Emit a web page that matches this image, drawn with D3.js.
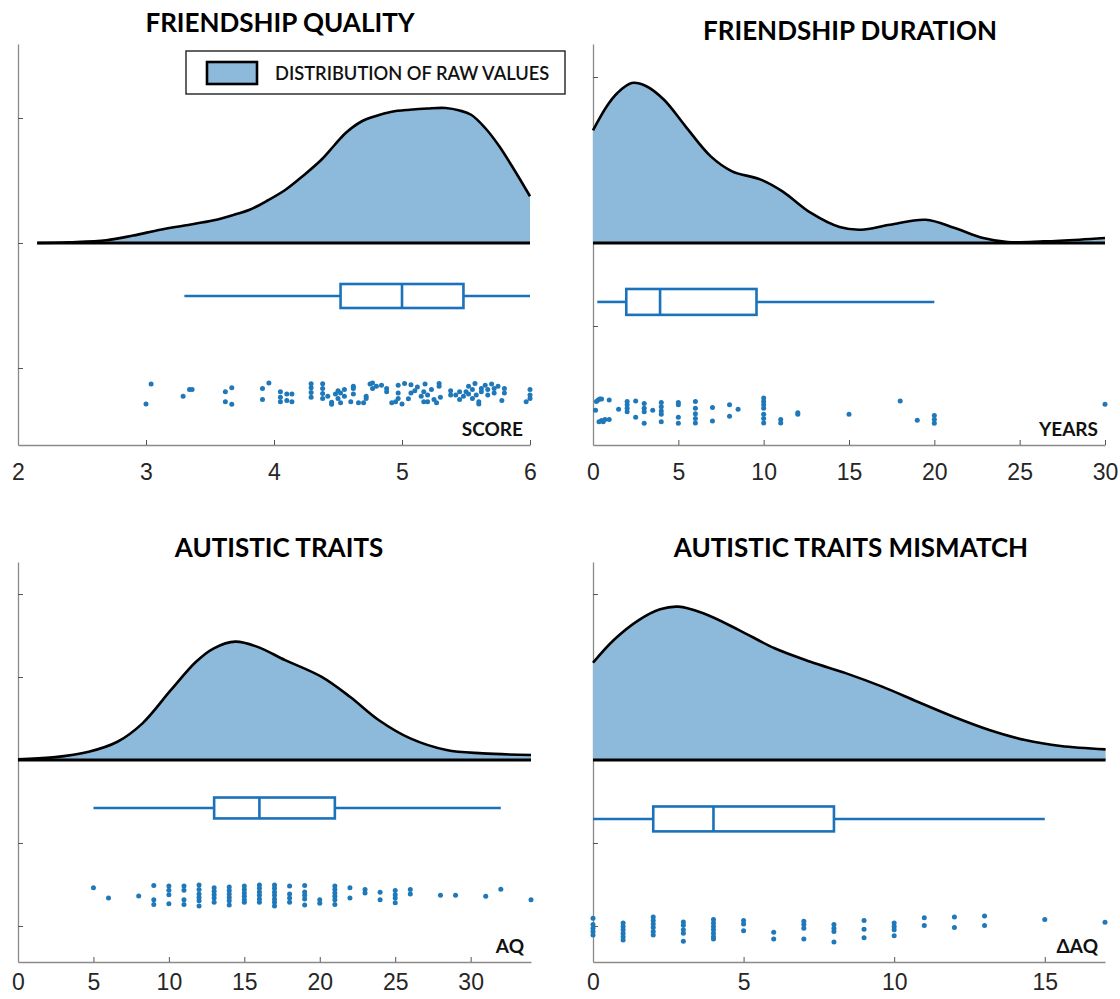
<!DOCTYPE html>
<html><head><meta charset="utf-8">
<script src="https://cdn.jsdelivr.net/npm/d3@7"></script>
<style>body{margin:0;background:#fff}</style>
</head><body>
<svg id="chart" width="1120" height="999"></svg>
<script>
// ---------------- DATA ----------------
const panelTitles = ["FRIENDSHIP QUALITY", "FRIENDSHIP DURATION", "AUTISTIC TRAITS", "AUTISTIC TRAITS MISMATCH"];
const unitLabels = ["SCORE", "YEARS", "AQ", "\u0394AQ"];
const legendLabel = "DISTRIBUTION OF RAW VALUES";

const qualityTicks = [2, 3, 4, 5, 6];
const durationTicks = [0, 5, 10, 15, 20, 25, 30];
const aqTicks = [0, 5, 10, 15, 20, 25, 30];
const mismatchTicks = [0, 5, 10, 15];

// density curves [value, density]
const qualityDensity = [[2.15,0],[2.4,0.003],[2.69,0.011],[2.9,0.03],[3.11,0.053],[3.3,0.07],[3.53,0.091],[3.7,0.115],[3.81,0.133],[3.95,0.17],[4.09,0.213],[4.23,0.27],[4.37,0.333],[4.47,0.39],[4.56,0.44],[4.68,0.485],[4.79,0.507],[4.92,0.525],[5.06,0.533],[5.2,0.538],[5.34,0.54],[5.45,0.53],[5.54,0.513],[5.65,0.46],[5.76,0.387],[5.88,0.29],[6.0,0.187]];
const durationDensity = [[0,0.0679],[0.8,0.0823],[1.43,0.0904],[2.27,0.0964],[3.1,0.0946],[4.16,0.0863],[5.42,0.0703],[6.9,0.0522],[8.15,0.0432],[9.83,0.0382],[11.1,0.0311],[12.77,0.0181],[14.45,0.0096],[15.7,0.008],[17.4,0.011],[19.5,0.014],[21.2,0.009],[22.86,0.003],[24.3,0.0006],[26.4,0.001],[28.5,0.002],[30,0.003]];
const aqDensity = [[0,0.0004],[2.32,0.0016],[4.69,0.005],[6.59,0.011],[8.25,0.0221],[10.14,0.0422],[11.8,0.0592],[12.98,0.0673],[14.4,0.0713],[15.83,0.0683],[17.7,0.0602],[20.1,0.0502],[22,0.0381],[23.9,0.0241],[26,0.013],[28.4,0.006],[30.8,0.004],[34,0.003]];
const mismatchDensity = [[0,0.0586],[0.69,0.0723],[1.52,0.0843],[2.23,0.0908],[2.83,0.0924],[3.66,0.0884],[4.85,0.0783],[6.03,0.0673],[7.22,0.0592],[8.41,0.0522],[9.6,0.0442],[10.78,0.0351],[11.97,0.0261],[13.16,0.0181],[14.35,0.012],[15.53,0.0084],[17.02,0.0064]];

// box plot stats [min, q1, median, q3, max]
const qualityBox = [3.3, 4.52, 5.0, 5.48, 6.0];
const durationBox = [0.25, 1.95, 3.93, 9.58, 20];
const aqBox = [5, 13, 16, 21, 32];
const mismatchBox = [0, 2, 4, 8, 15];

// raw points [value, vertical jitter 0..1]
const qualityPoints = [[3.04,0.05],[3.0,0.95],[3.29,0.6],[3.34,0.3],[3.36,0.3],[3.62,0.4],[3.67,0.22],[3.62,0.85],[3.67,0.97],[3.91,0.25],[3.96,0.0],[3.91,0.75],
[4.05,0.4],[4.05,0.65],[4.05,0.85],[4.10,0.5],[4.10,0.8],[4.14,0.5],[4.14,0.85],[4.29,0.03],[4.29,0.22],[4.29,0.43],[4.29,0.65],[4.38,0.03],[4.38,0.25],[4.38,0.48],[4.38,0.7],
[4.42,0.6],[4.45,0.88],[4.45,0.97],[4.48,0.5],[4.50,0.35],[4.50,0.7],[4.52,0.45],[4.52,0.9],[4.55,0.3],[4.55,0.6],[4.60,0.85],[4.62,0.5],[4.62,0.15],[4.62,0.25],[4.66,0.9],[4.70,0.9],[4.72,0.7],[4.72,0.6],[4.75,0.05],[4.77,0.0],[4.77,0.25],[4.80,0.15],[4.84,0.1],[4.88,0.25],[4.88,0.4],[4.92,0.9],[4.95,0.85],[4.97,0.45],[4.97,0.1],[4.97,0.7],[5.0,0.95],
[5.02,0.02],[5.05,0.72],[5.07,0.45],[5.07,0.08],[5.1,0.35],[5.12,0.18],[5.15,0.6],[5.17,0.4],[5.17,0.85],[5.18,0.05],[5.2,0.55],[5.2,0.85],[5.23,0.3],[5.25,0.75],[5.27,0.9],[5.29,0.02],[5.29,0.15],[5.3,0.65],
[5.38,0.35],[5.38,0.55],[5.42,0.55],[5.45,0.75],[5.45,0.4],[5.48,0.6],[5.5,0.4],[5.52,0.15],[5.52,0.5],[5.55,0.7],[5.55,0.3],[5.57,0.02],[5.58,0.55],[5.6,0.85],[5.6,0.95],[5.62,0.25],[5.62,0.4],[5.65,0.1],[5.67,0.3],[5.67,0.55],[5.7,0.05],[5.72,0.45],[5.72,0.25],[5.75,0.15],[5.78,0.8],[5.8,0.45],[5.8,0.25],
[5.97,0.85],[6.0,0.55],[6.0,0.3],[6.0,0.7]];
const durationPoints = [[0.2,0.13],[0.3,0.08],[0.4,0.04],[0.5,0.04],[0.95,0.08],[0.15,0.47],[0.35,0.92],[0.5,0.87],[0.6,0.92],[0.7,0.83],[0.95,0.83],
[1.5,0.43],[2,0.13],[2,0.26],[2,0.39],[2,0.53],[2.5,0.11],[2.5,0.74],[3,0.21],[3,0.39],[3,0.53],[3,0.97],[3.5,0.47],
[4,0.17],[4,0.34],[4,0.5],[4,0.63],[4,0.92],[5,0.17],[5,0.26],[5,0.74],[5,0.97],[6,0.13],[6,0.39],[6,0.61],[6,0.79],[6,0.96],
[7,0.37],[7,0.89],[8,0.26],[8,0.7],[8.5,0.43],[10,0],[10,0.13],[10,0.26],[10,0.39],[10,0.63],[10,0.79],[10,0.96],
[11,0.83],[11,0.96],[12,0.57],[12,0.63],[15,0.63],[18,0.11],[19,0.86],[20,0.67],[20,0.83],[20,0.97],[30,0.24]];
const aqPoints = [[5,0.13],[6,0.62],[8,0.52],[9,0.02],[9,0.7],[9,0.92],[10,0.05],[10,0.25],[10,0.46],[10,0.89],[11,0.05],[11,0.25],[11,0.7],[11,0.92],
[12,0],[12,0.21],[12,0.43],[12,0.59],[12,0.75],[12,1],[13,0.13],[13,0.3],[13,0.46],[13,0.62],[13,0.82],[14,0.1],[14,0.26],[14,0.43],[14,0.59],[14,0.75],[14,0.95],
[15,0.05],[15,0.21],[15,0.38],[15,0.54],[15,0.7],[15,0.82],[16,0],[16,0.16],[16,0.33],[16,0.49],[16,0.66],[16,0.82],[17,0],[17,0.16],[17,0.33],[17,0.49],[17,0.66],[17,0.82],[17,1],
[18,0.05],[18,0.43],[18,0.62],[18,0.82],[19,0.02],[19,0.33],[19,0.49],[19,0.66],[19,0.95],[20,0.7],[20,0.87],[21,0.05],[21,0.21],[21,0.38],[21,0.54],[21,0.7],[21,0.92],
[22,0.13],[22,0.62],[23,0.21],[23,0.38],[24,0.34],[24,0.7],[25,0.26],[25,0.46],[25,0.62],[25,0.84],[26,0.21],[26,0.43],[28,0.49],[29,0.49],[31,0.54],[32,0.2],[34,0.7]];
const mismatchPoints = [[0,0.09],[0,0.33],[0,0.47],[0,0.6],[0,0.73],[1,0.27],[1,0.4],[1,0.53],[1,0.67],[1,0.8],[1,0.93],[2,0.04],[2,0.17],[2,0.31],[2,0.44],[2,0.6],[2,0.73],
[3,0.23],[3,0.36],[3,0.53],[3,0.67],[3,0.97],[4,0.13],[4,0.27],[4,0.4],[4,0.53],[4,0.67],[4,0.8],[4,0.89],[5,0.17],[5,0.31],[5,0.57],[6,0.63],[6,0.89],
[7,0.2],[7,0.33],[7,0.47],[7,0.89],[8,0.33],[8,0.47],[8,0.6],[8,1],[9,0.17],[9,0.51],[9,0.84],[10,0.27],[10,0.4],[10,0.53],[10,0.76],[11,0.07],[11,0.37],[12,0.04],[12,0.44],[13,0],[13,0.37],[15,0.13],[17,0.24]];

// ---------------- LAYOUT ----------------
const panels = [
  {title: panelTitles[0], unit: unitLabels[0], ticks: qualityTicks, dens: qualityDensity, box: qualityBox, pts: qualityPoints,
   xd: [2, 6], xr: [18, 530], yd: [-0.808, 0.796], yr: [445, 44], yTicks: [-0.5, 0, 0.5],
   boxC: -0.212, boxH: 0.048, band: [-0.56, -0.648], tx: 280, ty: 32, lblPad: 19},
  {title: panelTitles[1], unit: unitLabels[1], ticks: durationTicks, dens: durationDensity, box: durationBox, pts: durationPoints,
   xd: [0, 30], xr: [593, 1105], yd: [-0.1217, 0.1199], yr: [445, 44], yTicks: [-0.1, -0.05, 0, 0.05, 0.1],
   boxC: -0.0355, boxH: 0.0078, band: [-0.0934, -0.109], tx: 850, ty: 40, lblPad: 19},
  {title: panelTitles[2], unit: unitLabels[2], ticks: aqTicks, dens: aqDensity, box: aqBox, pts: aqPoints,
   xd: [0, 34], xr: [18, 531], yd: [-0.1217, 0.1193], yr: [962, 562], yTicks: [-0.1, -0.05, 0, 0.05, 0.1],
   boxC: -0.0289, boxH: 0.0063, band: [-0.0753, -0.088], tx: 279, ty: 557, lblPad: 12},
  {title: panelTitles[3], unit: unitLabels[3], ticks: mismatchTicks, dens: mismatchDensity, box: mismatchBox, pts: mismatchPoints,
   xd: [0, 17], xr: [593, 1105], yd: [-0.1217, 0.1193], yr: [962, 562], yTicks: [-0.1, -0.05, 0, 0.05, 0.1],
   boxC: -0.0355, boxH: 0.0075, band: [-0.094, -0.1096], tx: 851, ty: 557, lblPad: 12}
];

const FILL = "#8dbadb", BLUE = "#1b72bb", DOT = "#1f78b9", AXIS = "#8a8a8a";
const svg = d3.select("#chart");

panels.forEach(p => {
  const x = d3.scaleLinear().domain(p.xd).range(p.xr);
  const y = d3.scaleLinear().domain(p.yd).range(p.yr);
  const g = svg.append("g");

  // axes
  const xa = g.append("g").attr("transform", `translate(0,${p.yr[0]})`)
    .call(d3.axisBottom(x).tickValues(p.ticks).tickFormat(d3.format("d")).tickSizeInner(-5).tickSizeOuter(0).tickPadding(p.lblPad));
  xa.select(".domain").attr("stroke", AXIS).attr("stroke-width", 1.3);
  xa.selectAll(".tick line").attr("stroke", "#555").attr("stroke-width", 1);
  xa.selectAll(".tick text").attr("font-family", "Liberation Sans, Arial, sans-serif").attr("font-size", 23).attr("fill", "#262626");

  const ya = g.append("g").attr("transform", `translate(${p.xr[0]},0)`)
    .call(d3.axisLeft(y).tickValues(p.yTicks).tickFormat("").tickSizeInner(-5).tickSizeOuter(0));
  ya.select(".domain").attr("stroke", AXIS).attr("stroke-width", 1.3);
  ya.selectAll(".tick line").attr("stroke", "#555").attr("stroke-width", 1);

  // density
  const curve = d3.curveCatmullRom.alpha(0.5);
  const area = d3.area().x(d => x(d[0])).y0(y(0)).y1(d => y(Math.max(0, d[1]))).curve(curve);
  const line = d3.line().x(d => x(d[0])).y(d => y(d[1])).curve(curve);
  g.append("path").datum(p.dens).attr("d", area).attr("fill", FILL);
  g.append("path").datum(p.dens).attr("d", line).attr("fill", "none").attr("stroke", "#000").attr("stroke-width", 2.6);
  const ext = d3.extent(p.dens, d => d[0]);
  g.append("line").attr("x1", x(ext[0])).attr("x2", x(ext[1])).attr("y1", y(0)).attr("y2", y(0))
    .attr("stroke", "#000").attr("stroke-width", 3);

  // box plot
  const [mn, q1, md, q3, mx] = p.box;
  const yc = y(p.boxC), yt = y(p.boxC + p.boxH), yb = y(p.boxC - p.boxH);
  const bg = g.append("g").attr("stroke", BLUE).attr("stroke-width", 2.6).attr("fill", "none");
  bg.append("line").attr("x1", x(mn)).attr("x2", x(q1)).attr("y1", yc).attr("y2", yc);
  bg.append("line").attr("x1", x(q3)).attr("x2", x(mx)).attr("y1", yc).attr("y2", yc);
  bg.append("rect").attr("x", x(q1)).attr("y", yt).attr("width", x(q3) - x(q1)).attr("height", yb - yt);
  bg.append("line").attr("x1", x(md)).attr("x2", x(md)).attr("y1", yt).attr("y2", yb);

  // points
  g.append("g").selectAll("circle").data(p.pts).join("circle")
    .attr("cx", d => x(d[0]))
    .attr("cy", d => y(p.band[0] + d[1] * (p.band[1] - p.band[0])))
    .attr("r", 2.5).attr("fill", DOT);

  // title
  g.append("text").attr("x", p.tx).attr("y", p.ty).attr("text-anchor", "middle")
    .attr("font-family", "Lato, sans-serif").attr("font-weight", 700).attr("font-size", 26).attr("fill", "#000")
    .text(p.title);
  // unit label
  g.append("text").attr("x", p.xr[1] - 7).attr("y", p.yr[0] - 9).attr("text-anchor", "end")
    .attr("font-family", "Lato, sans-serif").attr("font-weight", 700).attr("font-size", 19).attr("fill", "#111")
    .text(p.unit);
});

// legend
const lg = svg.append("g");
lg.append("rect").attr("x", 186).attr("y", 51).attr("width", 379).attr("height", 43)
  .attr("fill", "#fff").attr("stroke", "#222").attr("stroke-width", 1.4);
lg.append("rect").attr("x", 207).attr("y", 62).attr("width", 50).attr("height", 22)
  .attr("fill", FILL).attr("stroke", "#000").attr("stroke-width", 2.6);
lg.append("text").attr("x", 275).attr("y", 80).attr("font-family", "Lato, sans-serif").attr("font-weight", 600)
  .attr("font-size", 18.3).attr("fill", "#111").text(legendLabel);
</script>
</body></html>
